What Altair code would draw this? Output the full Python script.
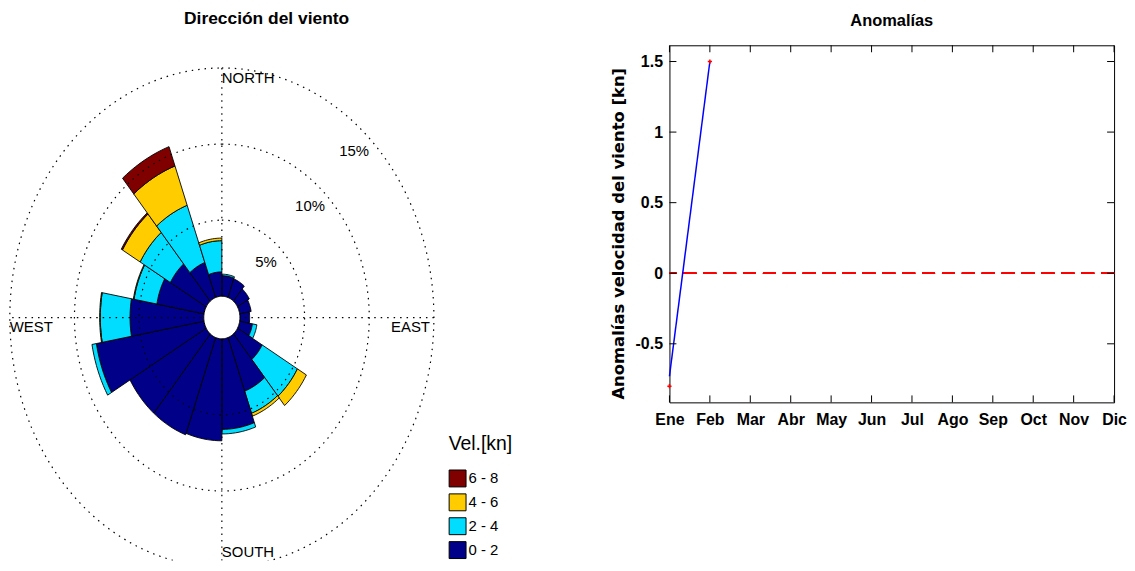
import math
import numpy as np
import pandas as pd
import altair as alt

# ---------------- Wind rose data (% of observations) ----------------
dir_start = [0, 20, 40, 60, 80, 100, 120, 140, 160, 180, 200, 220, 240, 260, 280, 300, 320, 340]
speed_classes = ["0 - 2", "2 - 4", "4 - 6", "6 - 8"]
pct_0_2 = [1.35, 1.3, 1.05, 0.9, 0.75, 1.0, 2.2, 3.75, 5.95, 6.7, 6.8, 6.8, 8.45, 5.7, 3.7, 3.2, 2.45, 1.6]
pct_2_4 = [0.1, 0, 0, 0, 0, 0.35, 3.15, 1.55, 0.3, 0, 0, 0, 0.35, 2.3, 1.8, 2.7, 4.0, 2.05]
pct_4_6 = [0, 0, 0, 0, 0, 0, 0.8, 0.2, 0, 0, 0, 0, 0, 0.05, 0.05, 1.58, 2.75, 0.17]
pct_6_8 = [0, 0, 0, 0, 0, 0, 0, 0, 0, 0, 0, 0, 0, 0, 0, 0.1, 1.35, 0]
ring_pcts = [5, 10, 15]
ring_labels = ["5%", "10%", "15%"]
cardinal_names = ["NORTH", "EAST", "SOUTH", "WEST"]
cardinal_angles = [0, 90, 180, 270]
legend_order = ["6 - 8", "4 - 6", "2 - 4", "0 - 2"]
legend_colors = ["#800000", "#FFCC00", "#00DDFF", "#000088"]

# ---------------- Anomaly data ----------------
months = ["Ene", "Feb", "Mar", "Abr", "May", "Jun", "Jul", "Ago", "Sep", "Oct", "Nov", "Dic"]
anom_line = [-0.73, 1.5]
anom_marker = [-0.8, 1.5]
y_ticks = [-0.5, 0, 0.5, 1, 1.5]

# ---------------- geometry of the rose panel ----------------
HOLE = 1.4          # radius of the empty centre, in % units
SX, SY = 13.0, 15.3  # px per % unit (horizontal, vertical)
CX, CY = 222.0, 316.7
LEFT0, TOP0 = 8.0, 43.0
W1, H1 = 530, 518
x_dom = [-(CX - LEFT0) / SX, (LEFT0 + W1 - CX) / SX]
y_dom = [-(TOP0 + H1 - CY) / SY, (CY - TOP0) / SY]
RMAX = HOLE + ring_pcts[-1]


def pol(r, a):
    t = math.radians(a)
    return r * math.sin(t), r * math.cos(t)


rows = []
sid = 0
series = [pct_0_2, pct_2_4, pct_4_6, pct_6_8]
for i, a0 in enumerate(dir_start):
    base = HOLE
    for cls, vals in zip(speed_classes, series):
        v = vals[i]
        if v <= 0:
            continue
        r0, r1 = base, base + v
        angs = np.linspace(a0, a0 + 20, 11)
        pts = [(r0, a) for a in angs] + [(r1, a) for a in angs[::-1]] + [(r0, a0)]
        for k, (r, a) in enumerate(pts):
            x, y = pol(r, a)
            rows.append({"seg": sid, "k": k, "cls": cls, "x": x, "y": y})
        sid += 1
        base = r1
wedge_df = pd.DataFrame(rows)

ring_rows = []
for p in ring_pcts:
    for k, a in enumerate(range(0, 362, 2)):
        x, y = pol(HOLE + p, a)
        ring_rows.append({"ring": p, "k": k, "x": x, "y": y})
ring_df = pd.DataFrame(ring_rows)

hole_rows = []
for k, a in enumerate(range(0, 362, 4)):
    x, y = pol(HOLE, a)
    hole_rows.append({"k": k, "x": x, "y": y})
hole_df = pd.DataFrame(hole_rows)

cross_rows = []
for a in cardinal_angles[:2]:
    x1, y1 = pol(RMAX, a)
    x2, y2 = pol(RMAX, a + 180)
    cross_rows.append({"x": x1, "y": y1, "x2": x2, "y2": y2})
cross_df = pd.DataFrame(cross_rows)

plab_rows = []
for p, t in zip(ring_pcts, ring_labels):
    x, y = pol(p, 43)
    plab_rows.append({"x": x, "y": y, "t": t})
plab_df = pd.DataFrame(plab_rows)

card_rows = []
for n, a in zip(cardinal_names, cardinal_angles):
    x, y = pol(RMAX, a)
    card_rows.append({"x": x, "y": y, "t": n})
card_df = pd.DataFrame(card_rows)

xs = alt.Scale(domain=x_dom, nice=False, zero=False)
ys = alt.Scale(domain=y_dom, nice=False, zero=False)
X = alt.X("x:Q", scale=xs, axis=None)
Y = alt.Y("y:Q", scale=ys, axis=None)

wedges = alt.Chart(wedge_df).mark_line(stroke="black", strokeWidth=0.9, clip=True).encode(
    x=X, y=Y, detail="seg:N", order="k:Q",
    fill=alt.Fill("cls:N", scale=alt.Scale(domain=legend_order, range=legend_colors),
                  legend=alt.Legend(title="Vel.[kn]", orient="none", legendX=442, legendY=392,
                                    symbolType="square", symbolSize=289, symbolStrokeColor="black",
                                    symbolStrokeWidth=1, rowPadding=2, labelOffset=2,
                                    labelFont="Liberation Sans", labelFontSize=15, labelColor="black",
                                    titleFont="Liberation Sans", titleFontSize=19.5, titleFontWeight="normal",
                                    titleColor="black", titlePadding=15)),
)

rings = alt.Chart(ring_df).mark_line(color="black", strokeWidth=1.2, strokeDash=[1.5, 5], clip=True).encode(
    x=X, y=Y, detail="ring:N", order="k:Q")

cross = alt.Chart(cross_df).mark_rule(color="black", strokeWidth=1.2, strokeDash=[1.5, 5], clip=True).encode(
    x=X, y=Y, x2="x2:Q", y2="y2:Q")

hole = alt.Chart(hole_df).mark_line(fill="white", stroke="black", strokeWidth=1, clip=True).encode(
    x=X, y=Y, order="k:Q")

plabels = alt.Chart(plab_df).mark_text(font="Liberation Sans", fontSize=15, color="black",
                                       align="center", baseline="middle").encode(x=X, y=Y, text="t:N")

def card(name, **kw):
    return alt.Chart(card_df).transform_filter(alt.datum.t == name).mark_text(
        font="Liberation Sans", fontSize=15, color="black", **kw).encode(x=X, y=Y, text="t:N")

cards = [
    card("NORTH", align="left", baseline="top", dx=0, dy=3),
    card("EAST", align="right", baseline="top", dx=-4, dy=3),
    card("SOUTH", align="left", baseline="bottom", dx=0, dy=-7),
    card("WEST", align="left", baseline="top", dx=0, dy=3),
]

rose = alt.layer(wedges, rings, cross, hole, plabels, *cards).properties(
    width=W1, height=H1,
    view=alt.ViewBackground(stroke="transparent"),
    title=alt.TitleParams("Dirección del viento", font="Liberation Sans", fontSize=17.5,
                          fontWeight="bold", color="black", baseline="alphabetic", offset=4, dx=-6),
)

# ---------------- Anomaly panel ----------------
W2, H2 = 447, 359
TL = 7
mdf = pd.DataFrame({"m": list(range(1, len(months) + 1))})
line_df = pd.DataFrame({"m": list(range(1, len(anom_line) + 1)), "v": anom_line})
mark_df = pd.DataFrame({"m": list(range(1, len(anom_marker) + 1)), "v": anom_marker})
yt_df = pd.DataFrame({"v": y_ticks})

xsc = alt.Scale(domain=[1, 12], nice=False, zero=False)
ysc = alt.Scale(domain=[-0.915, 1.615], nice=False, zero=False)
month_expr = "[" + ",".join("'%s'" % m for m in months) + "][datum.value - 1]"

x_axis = alt.Axis(values=mdf["m"].tolist(), labelExpr=month_expr, ticks=False, domain=False, grid=False,
                  labelFont="Liberation Sans", labelFontWeight="bold", labelFontSize=16, labelColor="black",
                  labelPadding=9, labelFlush=False, labelOverlap=False, title=None)
y_axis = alt.Axis(values=y_ticks, labelExpr="toString(datum.value)", ticks=False, domain=False, grid=False,
                  labelFont="Liberation Sans", labelFontWeight="bold", labelFontSize=16, labelColor="black",
                  labelPadding=7, labelFlush=False, labelOverlap=False,
                  title="Anomalías velocidad del viento [kn]", titleFont="DejaVu Sans", titleFontSize=16.5,
                  titleFontWeight="bold", titleColor="black", titleAngle=270, titleX=-51, titleY=189,
                  titleAlign="center", titleBaseline="middle")

zero_line = alt.Chart(mdf).mark_rule(color="#FF0000", strokeWidth=1.5, strokeDash=[13, 7]).encode(
    y=alt.Y(datum=0, scale=ysc, axis=y_axis))
blue = alt.Chart(line_df).mark_line(color="#0000FF", strokeWidth=1.5).encode(
    x=alt.X("m:Q", scale=xsc, axis=x_axis), y=alt.Y("v:Q", scale=ysc, axis=y_axis))
pts = alt.Chart(mark_df).mark_point(shape="M-1,0L1,0M0,-1L0,1", size=18, color="#FF0000",
                                    filled=False, strokeWidth=1.5, opacity=1).encode(
    x=alt.X("m:Q", scale=xsc), y=alt.Y("v:Q", scale=ysc))
top_t = alt.Chart(mdf).mark_rule(color="black", strokeWidth=1).encode(
    x=alt.X("m:Q", scale=xsc), y=alt.value(0), y2=alt.value(TL))
bot_t = alt.Chart(mdf).mark_rule(color="black", strokeWidth=1).encode(
    x=alt.X("m:Q", scale=xsc), y=alt.value(H2 - TL), y2=alt.value(H2))
lef_t = alt.Chart(yt_df).mark_rule(color="black", strokeWidth=1).encode(
    y=alt.Y("v:Q", scale=ysc), x=alt.value(0), x2=alt.value(TL))
rig_t = alt.Chart(yt_df).mark_rule(color="black", strokeWidth=1).encode(
    y=alt.Y("v:Q", scale=ysc), x=alt.value(W2 - TL), x2=alt.value(W2))

anom = alt.layer(zero_line, blue, pts, top_t, bot_t, lef_t, rig_t).properties(
    width=W2, height=H2,
    title=alt.TitleParams("Anomalías", font="Liberation Sans", fontSize=16.5, fontWeight="bold",
                          color="black", baseline="alphabetic", offset=2),
)

chart = alt.hconcat(rose, anom, spacing=672 - (LEFT0 + W1), bounds="flush").properties(
    padding=0, background="white"
).configure_view(stroke="black", strokeWidth=1)

chart.save("out.html", embed_options={"renderer": "svg", "actions": False})
